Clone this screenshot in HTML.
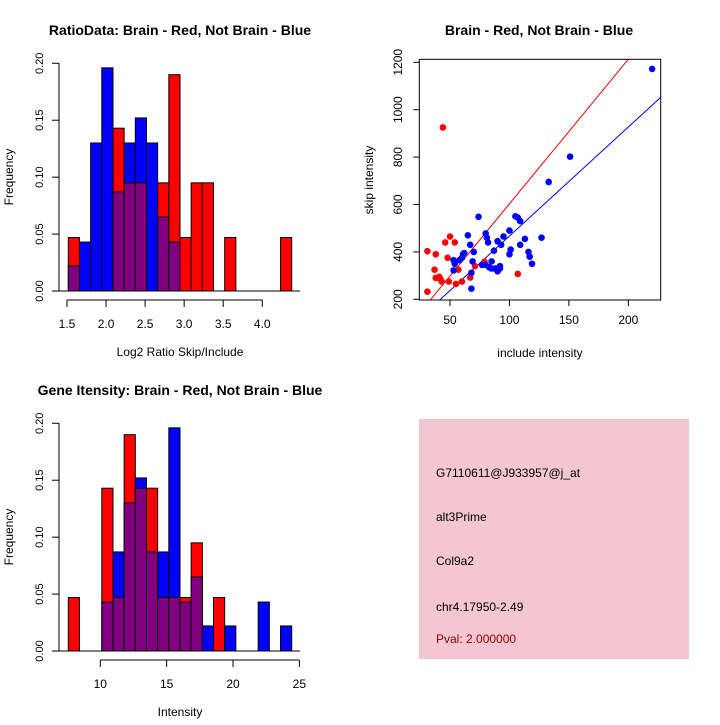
<!DOCTYPE html>
<html><head><meta charset="utf-8"><style>
body{margin:0;background:#fff}
svg text{font-family:"Liberation Sans",sans-serif;fill:#000}
</style></head><body>
<svg id="s" width="720" height="720" viewBox="0 0 720 720" xmlns="http://www.w3.org/2000/svg">
<rect width="720" height="720" fill="#fff"/>
<g id="h1"></g>
<g id="sc"></g>
<g id="h2"></g>
<g>
<rect x="419" y="419" width="270" height="240" fill="#f3c6d2"/>
<text x="436" y="477" font-size="12">G7110611@J933957@j_at</text>
<text x="436" y="521" font-size="12">alt3Prime</text>
<text x="436" y="565" font-size="12">Col9a2</text>
<text x="436" y="611" font-size="12">chr4.17950-2.49</text>
<text x="436" y="643" font-size="12" fill="#8b0000" style="fill:#8b0000">Pval: 2.000000</text>
</g>
</svg>
<script>
const h1Red=[.047,0,0,0,.143,.095,.095,0,.095,.19,.047,.095,.095,0,.047,0,0,0,0,.047];
const h1Blue=[.022,.043,.13,.196,.087,.13,.152,.13,.065,.043,0,0,0,0,0,0,0,0,0,0];
const h1XTicks=[1.5,2.0,2.5,3.0,3.5,4.0];
const h2Red=[.047,0,0,.143,.047,.19,.143,.143,.047,.047,.047,.095,0,.047,0,0,0,0,0,0];
const h2Blue=[0,0,0,.043,.087,.13,.152,.087,.087,.196,.043,.065,.022,0,.022,0,0,.043,0,.022];
const h2XTicks=[10,15,20,25];
const yTicks=[0,0.05,0.10,0.15,0.20];
const redX=[31,31,38,37,38,41,42,43,44,46,48,49,50,54,55,57,60,67,71,79,107];
const redY=[403,232,390,325,290,295,285,275,925,440,375,275,465,440,265,325,275,292,340,358,307];
const blueX=[53,54,53,58,60,61,62,65,67,68,68,69,70,74,77,80,80,81,82,83,85,85,87,88,90,90,92,92,93,95,100,100,101,105,107,109,109,113,116,117,119,127,133,151,220];
const blueY=[365,350,322,365,375,390,395,470,430,245,312,360,400,548,345,345,478,460,440,335,330,360,405,330,445,318,330,340,430,465,490,390,410,550,545,530,430,455,400,380,350,460,695,802,1172];
const scXTicks=[50,100,150,200];
const scYTicks=[200,400,600,800,1000,1200];
const redLine=[6.1,-7];
const blueLine=[4.6,7];

const NS="http://www.w3.org/2000/svg";
function mk(p,tag,a,txt){const e=document.createElementNS(NS,tag);for(const k in a)e.setAttribute(k,a[k]);if(txt!==undefined)e.textContent=txt;p.appendChild(e);return e;}

function hist(gid,red,blue,x0,ticks,xMap,top,title,xlab){
  const g=document.getElementById(gid);
  const y0=top+228, yS=v=>y0-v*(227.7/0.2);
  const bw=11.17;
  mk(g,'text',{x:180,y:top-28,'font-size':14,'font-weight':'bold','text-anchor':'middle'},title);
  for(let i=0;i<red.length;i++){
    const x=x0+i*bw, r=red[i], b=blue[i];
    const hi=Math.max(r,b), lo=Math.min(r,b);
    if(hi>0){const e=mk(g,'rect',{x:x,y:yS(hi),width:bw,height:yS(0)-yS(hi),fill:r>=b?'#ff0000':'#0000ff',stroke:'#000','stroke-width':1});
      
      }
    if(lo>0){const e=mk(g,'rect',{x:x,y:yS(lo),width:bw,height:yS(0)-yS(lo),fill:'#800080',stroke:'#000','stroke-width':1});
      
      }
  }
  mk(g,'line',{x1:52,x2:300,y1:y0,y2:y0,stroke:'#000'});
  mk(g,'line',{x1:59,x2:59,y1:yS(0),y2:yS(0.2),stroke:'#000'});
  yTicks.forEach(v=>{const y=yS(v);mk(g,'line',{x1:52,x2:59,y1:y,y2:y,stroke:'#000'});
    mk(g,'text',{x:0,y:0,'font-size':11,'text-anchor':'middle',transform:`translate(43,${y}) rotate(-90)`},v.toFixed(2));});
  const xa=y0+9;
  mk(g,'line',{x1:xMap(ticks[0]),x2:xMap(ticks[ticks.length-1]),y1:xa,y2:xa,stroke:'#000'});
  ticks.forEach(v=>{const x=xMap(v);mk(g,'line',{x1:x,x2:x,y1:xa,y2:xa+7,stroke:'#000'});
    mk(g,'text',{x:x,y:xa+28,'font-size':12,'text-anchor':'middle'},gid==='h1'?v.toFixed(1):v);});
  mk(g,'text',{x:180,y:top+293,'font-size':12,'text-anchor':'middle'},xlab);
  mk(g,'text',{x:0,y:0,'font-size':12,'text-anchor':'middle',transform:`translate(13,${y0-114}) rotate(-90)`},'Frequency');
}
hist('h1',h1Red,h1Blue,68.3,h1XTicks,v=>67+(v-1.5)*78.1,63,'RatioData: Brain - Red, Not Brain - Blue','Log2 Ratio Skip/Include');
hist('h2',h2Red,h2Blue,68.3,h2XTicks,v=>100.3+(v-10)*13.27,423,'Gene Itensity: Brain - Red, Not Brain - Blue','Intensity');

(function(){
  const g=document.getElementById('sc');
  const xS=v=>450+(v-50)*1.189, yS=v=>299.3-(v-200)*0.237;
  const L=419.3,R=660.7,T=59.3,B=300;
  mk(g,'text',{x:539,y:35,'font-size':14,'font-weight':'bold','text-anchor':'middle'},'Brain - Red, Not Brain - Blue');
  const d=mk(g,'defs',{});const cp=mk(d,'clipPath',{id:'cp'});mk(cp,'rect',{x:L,y:T,width:R-L,height:B-T});
  const lg=mk(g,'g',{'clip-path':'url(#cp)'});
  [[redLine,'#ff0000'],[blueLine,'#0000ff']].forEach(([l,c])=>{
    const e=mk(lg,'line',{x1:xS(0),y1:yS(l[1]),x2:xS(260),y2:yS(l[0]*260+l[1]),stroke:c,'stroke-width':1});
    
    });
  redX.forEach((x,i)=>{const e=mk(g,'circle',{cx:xS(x),cy:yS(redY[i]),r:3.3,fill:'#ff0000'});
    
    });
  blueX.forEach((x,i)=>{const e=mk(g,'circle',{cx:xS(x),cy:yS(blueY[i]),r:3.3,fill:'#0000ff'});
    
    });
  mk(g,'rect',{x:L,y:T,width:R-L,height:B-T,fill:'none',stroke:'#000'});
  scXTicks.forEach(v=>{const x=xS(v);mk(g,'line',{x1:x,x2:x,y1:B,y2:B+6,stroke:'#000'});
    mk(g,'text',{x:x,y:B+24,'font-size':12,'text-anchor':'middle'},v);});
  scYTicks.forEach(v=>{const y=yS(v);mk(g,'line',{x1:L-6,x2:L,y1:y,y2:y,stroke:'#000'});
    mk(g,'text',{x:0,y:0,'font-size':12,'text-anchor':'middle',transform:`translate(402,${y}) rotate(-90)`},v);});
  mk(g,'text',{x:540,y:357,'font-size':12,'text-anchor':'middle'},'include intensity');
  mk(g,'text',{x:0,y:0,'font-size':12,'text-anchor':'middle',transform:'translate(373,180) rotate(-90)'},'skip intensity');
})();
</script>
</body></html>
